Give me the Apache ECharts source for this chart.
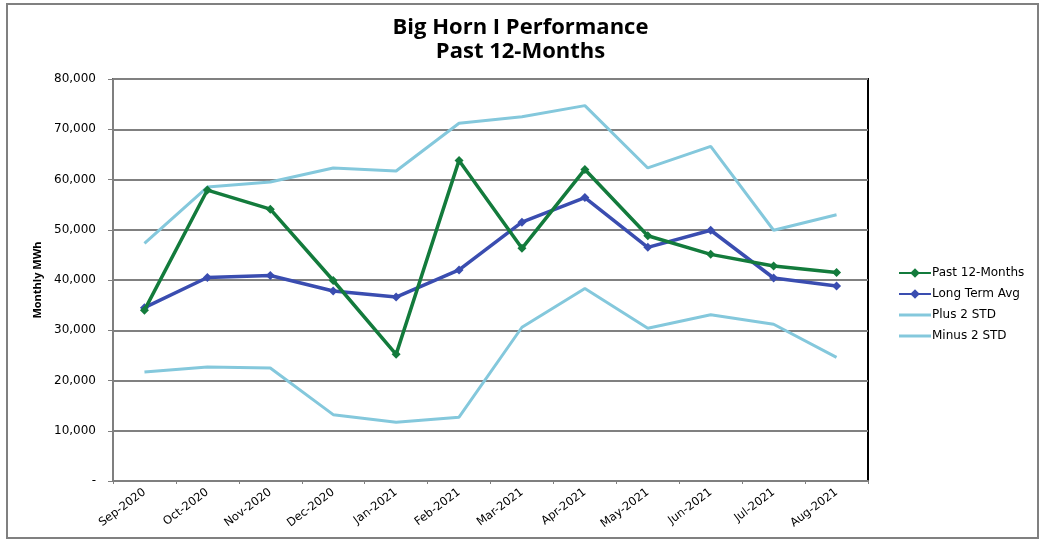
<!DOCTYPE html>
<html lang="en">
<head>
    <meta charset="UTF-8">
    <title>Big Horn I Performance</title>
    <script type="text/javascript" src="https://cdn.jsdelivr.net/npm/echarts@6/dist/echarts.min.js"></script>
    <style>
        body { margin: 0; background: #fff; }
    </style>
</head>
<body>
<div id="main" style="width: 1041px; height: 540px;"></div>
<script type="text/javascript">
    // values (MWh)
    var months = ['Sep-2020', 'Oct-2020', 'Nov-2020', 'Dec-2020', 'Jan-2021', 'Feb-2021',
        'Mar-2021', 'Apr-2021', 'May-2021', 'Jun-2021', 'Jul-2021', 'Aug-2021'];
    var past12 = [34000, 57900, 54100, 39900, 25200, 63800, 46300, 62000, 48800, 45100, 42800, 41500];
    var longTermAvg = [34500, 40500, 40900, 37800, 36600, 42000, 51500, 56400, 46500, 49900, 40400, 38800];
    var plus2Std = [47300, 58500, 59500, 62300, 61700, 71200, 72500, 74700, 62300, 66600, 49900, 53000];
    var minus2Std = [21700, 22700, 22500, 13200, 11700, 12700, 30600, 38300, 30400, 33100, 31200, 24600];

    var myChart = echarts.init(document.getElementById('main'));

    var tickFont = 'DejaVu Sans';
    var lineIcon = 'path://M0,4.5L32,4.5L32,7.5L0,7.5Z';

    var option = {
        backgroundColor: '#fff',
        animation: false,
        title: {
            text: 'Big Horn I Performance\nPast 12-Months',
            left: 'center',
            top: 11,
            textStyle: {
                fontFamily: 'Open Sans',
                fontWeight: 'bold',
                fontSize: 22,
                lineHeight: 24,
                color: '#000'
            }
        },
        graphic: [{
            type: 'rect',
            shape: { x: 7, y: 4, width: 1031, height: 534 },
            style: { fill: 'none', stroke: '#808080', lineWidth: 2 },
            silent: true
        }],
        legend: {
            orient: 'vertical',
            left: 893,
            top: 262,
            itemWidth: 32,
            itemHeight: 12,
            itemGap: 9,
            textStyle: { fontFamily: tickFont, fontSize: 12, color: '#000', padding: [0, 0, 0, -4] },
            data: [
                { name: 'Past 12-Months' },
                { name: 'Long Term Avg' },
                { name: 'Plus 2 STD', icon: lineIcon },
                { name: 'Minus 2 STD', icon: lineIcon }
            ]
        },
        grid: {
            left: 113,
            right: 173,
            top: 79,
            bottom: 59,
            show: true,
            borderColor: '#000',
            borderWidth: 2
        },
        xAxis: {
            type: 'category',
            data: months,
            axisLine: { lineStyle: { color: '#7f7f7f', width: 2 } },
            axisTick: { show: true, length: 3, lineStyle: { color: '#7f7f7f' } },
            axisLabel: {
                rotate: 37,
                margin: 10,
                fontFamily: tickFont,
                fontSize: 11.5,
                color: '#000'
            }
        },
        yAxis: {
            type: 'value',
            min: 0,
            max: 80000,
            interval: 10000,
            name: 'Monthly MWh',
            nameLocation: 'middle',
            nameGap: 70,
            nameTextStyle: { fontFamily: 'Open Sans', fontWeight: 'bold', fontSize: 11, color: '#000' },
            axisLine: { show: true, lineStyle: { color: '#7f7f7f', width: 2 } },
            axisTick: { show: true, length: 5, lineStyle: { color: '#7f7f7f' } },
            axisLabel: {
                margin: 17,
                fontFamily: tickFont,
                fontSize: 12,
                color: '#000',
                formatter: function (v) {
                    if (v === 0) return '-';
                    return v.toLocaleString('en-US');
                }
            },
            splitLine: { lineStyle: { color: '#808080', width: 2 } }
        },
        series: [
            {
                name: 'Plus 2 STD',
                type: 'line',
                data: plus2Std,
                z: 2,
                showSymbol: false,
                symbol: 'none',
                lineStyle: { color: '#84c8dc', width: 3 },
                itemStyle: { color: '#84c8dc' }
            },
            {
                name: 'Minus 2 STD',
                type: 'line',
                data: minus2Std,
                z: 2,
                showSymbol: false,
                symbol: 'none',
                lineStyle: { color: '#84c8dc', width: 3 },
                itemStyle: { color: '#84c8dc' }
            },
            {
                name: 'Long Term Avg',
                type: 'line',
                data: longTermAvg,
                z: 3,
                symbol: 'diamond',
                symbolSize: 9,
                lineStyle: { color: '#3a4db0', width: 3.5 },
                itemStyle: { color: '#3a4db0' }
            },
            {
                name: 'Past 12-Months',
                type: 'line',
                data: past12,
                z: 4,
                symbol: 'diamond',
                symbolSize: 9,
                lineStyle: { color: '#137b3c', width: 3.5 },
                itemStyle: { color: '#137b3c' }
            }
        ]
    };
    myChart.setOption(option);
</script>
</body>
</html>
